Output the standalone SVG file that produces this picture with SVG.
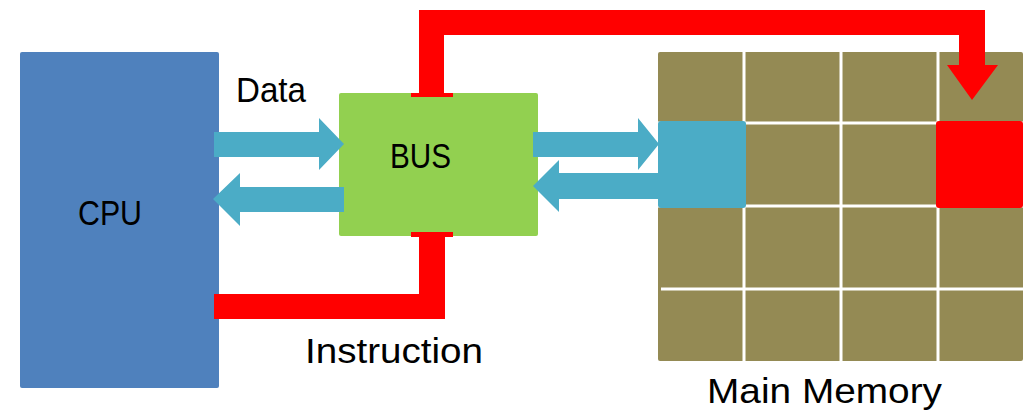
<svg xmlns="http://www.w3.org/2000/svg" width="1025" height="412" viewBox="0 0 1025 412">
<style>
.lbl{font-family:"Liberation Sans",Arial,sans-serif;font-size:35px;fill:#000}
.data{fill:#4BACC6}
.red{fill:#FF0000}
.grid{stroke:#FFFFFF;stroke-width:3}
</style>
<rect width="1025" height="412" fill="#FFFFFF"/>
<g id="cpu">
<rect x="20" y="52" width="199" height="336" rx="2" fill="#4F81BD"/>
<text class="lbl" x="78" y="225" textLength="64" lengthAdjust="spacingAndGlyphs">CPU</text>
</g>
<g id="bus">
<rect x="339" y="93" width="199" height="143" rx="2" fill="#92D050"/>
<text class="lbl" x="390" y="168" textLength="61" lengthAdjust="spacingAndGlyphs">BUS</text>
</g>
<g id="main-memory">
<rect x="658" y="52" width="365" height="309" rx="2" fill="#948A54"/>
<line class="grid" x1="744" y1="52" x2="744" y2="361"/>
<line class="grid" x1="841" y1="52" x2="841" y2="361"/>
<line class="grid" x1="938" y1="52" x2="938" y2="361"/>
<line class="grid" x1="658" y1="123" x2="1023" y2="123"/>
<line class="grid" x1="658" y1="206" x2="1023" y2="206"/>
<line class="grid" x1="661" y1="289" x2="1023" y2="289"/>
<rect id="mem-cell-data" x="658" y="121" width="88" height="87" rx="3" fill="#4BACC6"/>
<rect id="mem-cell-instr" x="936" y="121" width="87" height="87" rx="3" fill="#FF0000"/>
<text class="lbl" x="707" y="403" textLength="235" lengthAdjust="spacingAndGlyphs">Main Memory</text>
</g>
<g id="connectors">
<polygon class="data" points="214,132 319,132 319,118 344,144 319,170 319,157 214,157"/>
<polygon class="data" points="344,187 240,187 240,173 213,199 240,226 240,212 344,212"/>
<polygon class="data" points="533,132 638,132 638,118 659,144 638,170 638,157 533,157"/>
<polygon class="data" points="658,173 559,173 559,160 533,186 559,212 559,199 658,199"/>
<polygon class="red" points="419,95 419,10 985,10 985,65 998,65 972,100 947,65 959,65 959,35 444,35 444,95"/>
<rect class="red" x="411" y="93" width="42" height="4"/>
<polygon class="red" points="419,234 419,294 214,294 214,319 445,319 445,234"/>
<rect class="red" x="411" y="232" width="42" height="5"/>
</g>
<g id="labels">
<text class="lbl" x="236" y="102" textLength="70" lengthAdjust="spacingAndGlyphs">Data</text>
<text class="lbl" x="305" y="363" textLength="178" lengthAdjust="spacingAndGlyphs">Instruction</text>
</g>
</svg>
